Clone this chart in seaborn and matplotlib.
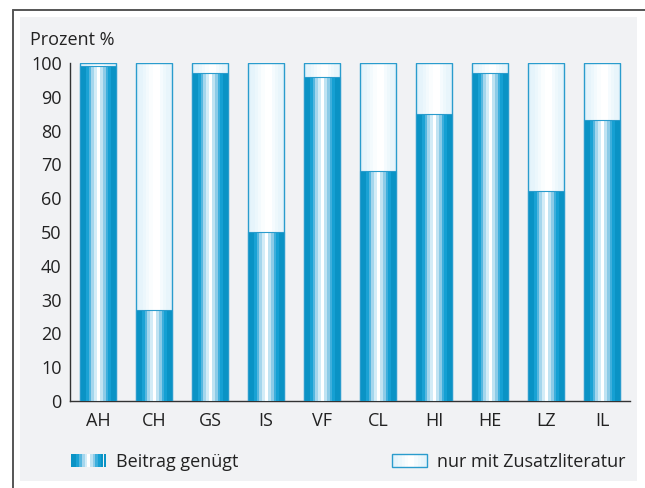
import numpy as np
import pandas as pd
import matplotlib
matplotlib.use("Agg")
import matplotlib.pyplot as plt
import seaborn as sns
from matplotlib.colors import to_rgb
from matplotlib.patches import Rectangle
from matplotlib.lines import Line2D
from matplotlib.legend_handler import HandlerBase

# data
categories = ["AH", "CH", "GS", "IS", "VF", "CL", "HI", "HE", "LZ", "IL"]
beitrag = [99, 27, 97, 50, 96, 68, 85, 97, 62, 83]
zusatz = [1, 73, 3, 50, 4, 32, 15, 3, 38, 17]
yticks = list(range(0, 101, 10))

df = pd.DataFrame({"cat": categories, "beitrag": beitrag, "zusatz": zusatz})
df["total"] = df["beitrag"] + df["zusatz"]

# cylinder stripes, left to right
blue_stripes = ["#0a93c5", "#0a93c5", "#1aa2d4", "#56b7df", "#a4d6ed", "#d3ecf7",
                "#ffffff", "#c0e3f2", "#8ccbe7", "#3eafdc", "#15a0d3", "#0a93c5", "#0a93c5"]
white_stripes = ["#e2f2fa", "#e6f4fb", "#ecf7fc", "#f3fafd", "#fafdfe", "#ffffff",
                 "#ffffff", "#f5fbfe", "#eef8fc", "#e8f5fb", "#e4f3fa"]
edge_col = "#2a9ccd"
panel_col = "#f1f2f4"
axis_col = "#333333"

sns.set_style("white")
plt.rcParams["font.family"] = ["Open Sans", "DejaVu Sans"]
fs = 13

fig = plt.figure(figsize=(6.45, 4.88), dpi=100)
fig.patch.set_facecolor("white")

# outer frame and grey panel
fig.add_artist(Rectangle((20 / 645, 1 - 481 / 488), 617 / 645, 464 / 488,
                         transform=fig.transFigure, facecolor=panel_col,
                         edgecolor="none", zorder=0))
fig.add_artist(Line2D([13 / 645, 1], [1 - 10 / 488, 1 - 10 / 488],
                      transform=fig.transFigure, color="#555555", lw=1.4))
fig.add_artist(Line2D([13 / 645, 13 / 645], [0, 1 - 10 / 488],
                      transform=fig.transFigure, color="#555555", lw=1.4))

ax = fig.add_axes([70 / 645, 1 - 401 / 488, 560 / 645, 338 / 488])
ax.patch.set_visible(False)

sns.barplot(data=df, x="cat", y="total", color="white", width=0.65,
            edgecolor=edge_col, linewidth=1.0, ax=ax, zorder=2)
sns.barplot(data=df, x="cat", y="beitrag", color="#0a93c5", width=0.65,
            edgecolor=edge_col, linewidth=0.8, ax=ax, zorder=4)


def fill_gradient(patch, colors, z):
    x, y = patch.get_x(), patch.get_y()
    w, h = patch.get_width(), patch.get_height()
    img = np.array([[to_rgb(c) for c in colors]])
    im = ax.imshow(img, extent=[x, x + w, y, y + h], aspect="auto",
                   interpolation="nearest", zorder=z)
    im.set_clip_path(patch)


n = len(categories)
for p in ax.patches[:n]:
    fill_gradient(p, white_stripes, 2.5)
for p in ax.patches[n:2 * n]:
    fill_gradient(p, blue_stripes, 4.5)
# re-draw edges above the gradients
for p in ax.patches[:2 * n]:
    p.set_zorder(p.get_zorder() + 1)
    p.set_facecolor("none")

ax.set_xlim(-0.5, n - 0.5)
ax.set_ylim(0, 100)
ax.set_yticks(yticks)
ax.set_xticks(range(n))
ax.set_xticklabels(categories)
ax.set_xticks(np.arange(-0.5, n, 1.0), minor=True)
ax.tick_params(axis="x", which="major", length=0, pad=8, labelsize=fs, colors="#222222")
ax.tick_params(axis="x", which="minor", length=5, width=1, direction="out", color=axis_col)
ax.tick_params(axis="y", length=5, width=1, direction="out", pad=1, labelsize=fs,
               color=axis_col, labelcolor="#222222")
ax.set_xlabel("")
ax.set_ylabel("")
sns.despine(ax=ax)
for s in ["left", "bottom"]:
    ax.spines[s].set_color(axis_col)
    ax.spines[s].set_linewidth(1)

fig.text(30 / 645, 1 - 40 / 488, "Prozent %", fontsize=fs, va="center", ha="left",
         color="#222222")


class StripeHandler(HandlerBase):
    def __init__(self, colors, outline):
        super().__init__()
        self.colors = colors
        self.outline = outline

    def create_artists(self, legend, orig_handle, xdescent, ydescent, width, height,
                       fontsize, trans):
        arts = []
        k = len(self.colors)
        for i, c in enumerate(self.colors):
            arts.append(Rectangle((-xdescent + i * width / k, -ydescent), width / k, height,
                                  facecolor=c, edgecolor="none", transform=trans))
        if self.outline:
            arts.append(Rectangle((-xdescent, -ydescent), width, height, facecolor="none",
                                  edgecolor=edge_col, lw=1, transform=trans))
        return arts


h_blue = Rectangle((0, 0), 1, 1)
h_white = Rectangle((0, 0), 1, 1)
leg_kw = dict(frameon=False, fontsize=fs, borderpad=0, borderaxespad=0,
              handlelength=1.95, handleheight=0.7, handletextpad=0.55,
              loc="center left", bbox_transform=fig.transFigure)
leg1 = fig.legend([h_blue], ["Beitrag genügt"], bbox_to_anchor=(71 / 645, 1 - 462 / 488),
                  handler_map={h_blue: StripeHandler(blue_stripes, False)}, **leg_kw)
leg2 = fig.legend([h_white], ["nur mit Zusatzliteratur"],
                  bbox_to_anchor=(392 / 645, 1 - 462 / 488),
                  handler_map={h_white: StripeHandler(white_stripes, True)}, **leg_kw)
for leg in (leg1, leg2):
    for t in leg.get_texts():
        t.set_color("#222222")

fig.savefig("out.png", dpi=100)
